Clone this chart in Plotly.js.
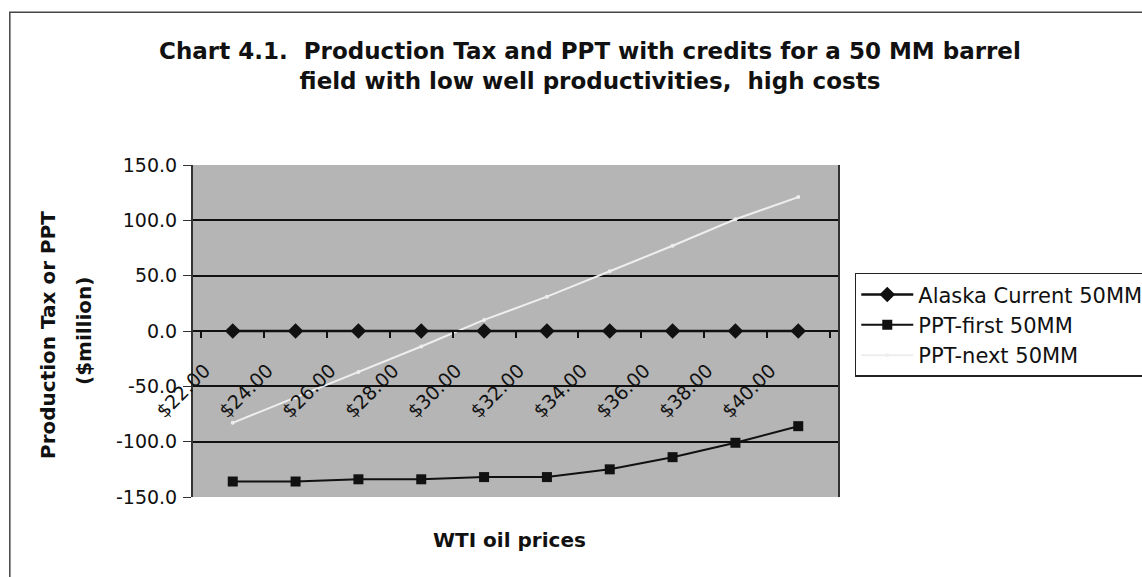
<!DOCTYPE html>
<html>
<head>
<meta charset="utf-8">
<script src="https://cdn.plot.ly/plotly-3.0.1.min.js"></script>
<style>html,body{margin:0;padding:0;background:#fff;}#chart{width:1142px;height:577px;}</style>
</head>
<body>
<div id="chart"></div>
<script>
const prices = ["$22.00","$24.00","$26.00","$28.00","$30.00","$32.00","$34.00","$36.00","$38.00","$40.00"];
const alaskaCurrent = [0, 0, 0, 0, 0, 0, 0, 0, 0, 0];
const pptFirst = [-136, -136, -134, -134, -132, -132, -125, -114, -101, -86];
const pptNext = [-83, -60, -37, -14, 10, 31, 54, 77, 101, 121];
const yTicks = [-150, -100, -50, 0, 50, 100, 150];
const yTickText = yTicks.map(v => v.toFixed(1));

const F = "DejaVu Sans, Verdana, sans-serif";

const traces = [
  {x: prices, y: alaskaCurrent, name: "Alaska Current 50MM", type: "scatter", mode: "lines+markers",
   line: {color: "#111", width: 2.5}, marker: {symbol: "diamond", size: 12, color: "#111"}},
  {x: prices, y: pptFirst, name: "PPT-first 50MM", type: "scatter", mode: "lines+markers",
   line: {color: "#111", width: 2}, marker: {symbol: "square", size: 10, color: "#111"}},
  {x: prices, y: pptNext, name: "PPT-next 50MM", type: "scatter", mode: "lines+markers",
   line: {color: "#eeeeee", width: 2}, marker: {symbol: "circle", size: 4, color: "#eeeeee"}}
];

const layout = {
  width: 1142, height: 577,
  margin: {l: 193, r: 304, t: 165, b: 80, pad: 0, autoexpand: false},
  paper_bgcolor: "#ffffff",
  plot_bgcolor: "#b5b5b5",
  font: {family: F, color: "#111"},
  title: {text: "<b>Chart 4.1.  Production Tax and PPT with credits for a 50 MM barrel<br>field with low well productivities,  high costs</b>",
          font: {size: 23, family: F, color: "#111"}, x: 0.5166, xanchor: "center", y: 0.897, yanchor: "middle"},
  xaxis: {
    type: "category", anchor: "free", position: 0.5,
    showline: true, linecolor: "#111", linewidth: 2,
    ticks: "outside", tickson: "boundaries", ticklen: 6, tickcolor: "#111", tickwidth: 2,
    tickangle: -45, tickfont: {size: 19, family: F, color: "#111"},
    ticklabelstandoff: 20, ticklabelshift: -28,
    showgrid: false, zeroline: false, automargin: false,
    title: {text: ""}
  },
  yaxis: {
    range: [-150, 150], tickvals: yTicks, ticktext: yTickText,
    ticks: "outside", ticklen: 8, tickcolor: "#333",
    tickfont: {size: 19, family: F, color: "#111"},
    showgrid: true, gridcolor: "#111", gridwidth: 2,
    zeroline: false, showline: true, linecolor: "#333", linewidth: 2, mirror: true,
    automargin: false, ticklabelstandoff: 2,
    title: {text: ""}
  },
  annotations: [
    {text: "<b>WTI oil prices</b>", xref: "paper", yref: "paper", x: 0.49, y: -0.13, xanchor: "center", yanchor: "middle",
     showarrow: false, font: {size: 20, family: F, color: "#111"}},
    {text: "<b>Production Tax or PPT</b>", xref: "paper", yref: "paper", x: (48 - 193) / 645, y: (497 - 335) / 332,
     xanchor: "center", yanchor: "middle", textangle: -90, showarrow: false, font: {size: 20, family: F, color: "#111"}},
    {text: "<b>($million)</b>", xref: "paper", yref: "paper", x: (84 - 193) / 645, y: (497 - 331) / 332,
     xanchor: "center", yanchor: "middle", textangle: -90, showarrow: false, font: {size: 20, family: F, color: "#111"}}
  ],
  legend: {
    x: 1.026, y: 0.675, xanchor: "left", yanchor: "top",
    bgcolor: "#ffffff", bordercolor: "#222", borderwidth: 1.5,
    font: {size: 21, family: F, color: "#111"}, itemwidth: 52, tracegroupgap: 0
  },
  shapes: [
    {type: "rect", xref: "paper", yref: "paper", x0: -0.284, x1: 1.7, y0: -0.4, y1: 1.46,
     line: {color: "#444", width: 1.5}, fillcolor: "rgba(0,0,0,0)", layer: "below"}
  ],
  showlegend: true
};

Plotly.newPlot("chart", traces, layout, {displayModeBar: false, staticPlot: true});
</script>
</body>
</html>
